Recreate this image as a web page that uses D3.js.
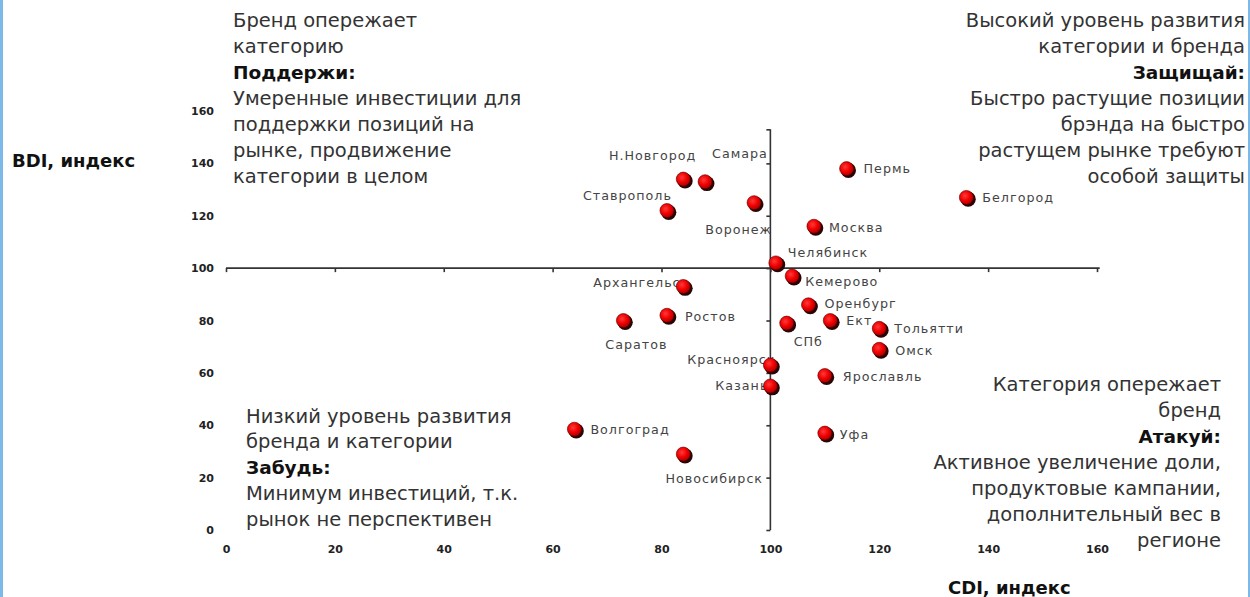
<!DOCTYPE html>
<html>
<head>
<meta charset="utf-8">
<script src="https://cdn.jsdelivr.net/npm/d3@7"></script>
<style>
  html, body { margin: 0; padding: 0; background: #fff; }
  svg { display: block; }
</style>
</head>
<body>
<svg id="chart" width="1250" height="597"></svg>
<script>
// Regions: CDI (category development index) and BDI (brand development index)
const cities = ["Н.Новгород", "Самара", "Ставрополь", "Воронеж", "Пермь", "Белгород",
  "Москва", "Челябинск", "Кемерово", "Архангельск", "Ростов", "Саратов", "Оренбург",
  "СПб", "Ект", "Тольятти", "Омск", "Красноярск", "Казань", "Ярославль", "Волгоград",
  "Уфа", "Новосибирск"];
const cdi = [84, 88, 81, 97, 114, 136, 108, 101, 104, 84, 81, 73, 107, 103, 111, 120, 120, 100, 100, 110, 64, 110, 84];
const bdi = [134, 133, 122, 125, 138, 127, 116, 102, 97, 93, 82, 80, 86, 79, 80, 77, 69, 63, 55, 59, 38.5, 37, 29];

const xTicks = [0, 20, 40, 60, 80, 100, 120, 140, 160];
const yTicks = [0, 20, 40, 60, 80, 100, 120, 140, 160];
const xTitle = "CDI, индекс";
const yTitle = "BDI, индекс";

// Quadrant commentary: [text, isHeading]
const textTopLeft = [["Бренд опережает", false], ["категорию", false], ["Поддержи:", true],
  ["Умеренные инвестиции для", false], ["поддержки позиций на", false],
  ["рынке, продвижение", false], ["категории в целом", false]];
const textTopRight = [["Высокий уровень развития", false], ["категории и бренда", false],
  ["Защищай:", true], ["Быстро растущие позиции", false], ["брэнда на быстро", false],
  ["растущем рынке требуют", false], ["особой защиты", false]];
const textBottomLeft = [["Низкий уровень развития", false], ["бренда и категории", false],
  ["Забудь:", true], ["Минимум инвестиций, т.к.", false], ["рынок не перспективен", false]];
const textBottomRight = [["Категория опережает", false], ["бренд", false], ["Атакуй:", true],
  ["Активное увеличение доли,", false], ["продуктовые кампании,", false],
  ["дополнительный вес в", false], ["регионе", false]];

const svg = d3.select("#chart");
const FONT = "'DejaVu Sans', sans-serif";

// Scales
const x = d3.scaleLinear().domain([0, 160]).range([226, 1097]);
const y = d3.scaleLinear().domain([0, 160]).range([530, 111]);

// Thin frame strips at the page edges
svg.append("rect").attr("x", 0).attr("y", 0).attr("width", 3).attr("height", 597).attr("fill", "#7db9e8");
svg.append("rect").attr("x", 1248).attr("y", 0).attr("width", 2).attr("height", 597).attr("fill", "#7db9e8");

// Tick labels (no axis lines; the axes cross at 100/100)
const yAxis = d3.axisLeft(y).tickValues(yTicks).tickSize(0).tickPadding(0);
svg.append("g").attr("transform", "translate(214,0)").call(yAxis)
  .call(g => g.select(".domain").remove())
  .call(g => g.selectAll("text").attr("font-family", FONT).attr("font-size", 11)
    .attr("font-weight", "bold").attr("fill", "#222"));

const xAxis = d3.axisBottom(x).tickValues(xTicks).tickSize(0).tickPadding(0);
svg.append("g").attr("transform", "translate(0,545)").call(xAxis)
  .call(g => g.select(".domain").remove())
  .call(g => g.selectAll("text").attr("font-family", FONT).attr("font-size", 11)
    .attr("font-weight", "bold").attr("fill", "#222"));

// Crossing axes through (100, 100)
const hAxis = d3.axisBottom(x).tickValues(xTicks).tickSize(4).tickFormat("");
svg.append("g").attr("transform", `translate(0,${y(100)})`).call(hAxis)
  .call(g => g.select(".domain").attr("d", `M${x(0)},0H${x(160.5)}`))
  .call(g => g.selectAll("line, path").attr("stroke", "#333").attr("stroke-width", 1.6));

const vScale = d3.scaleLinear().domain([0, 153]).range([y(0), y(153)]);
const vAxis = d3.axisLeft(vScale).tickValues([0, 20, 40, 60, 80, 100, 120, 140, 153])
  .tickSize(4).tickFormat("");
svg.append("g").attr("transform", `translate(${x(100)},0)`).call(vAxis)
  .call(g => g.select(".domain").attr("d", `M0,${vScale(0)}V${vScale(153)}`))
  .call(g => g.selectAll("line, path").attr("stroke", "#333").attr("stroke-width", 1.6));

// Marker gradient
const defs = svg.append("defs");
const grad = defs.append("radialGradient").attr("id", "ball")
  .attr("cx", "40%").attr("cy", "38%").attr("r", "65%");
grad.append("stop").attr("offset", "0%").attr("stop-color", "#ff3a3a");
grad.append("stop").attr("offset", "55%").attr("stop-color", "#f00000");
grad.append("stop").attr("offset", "100%").attr("stop-color", "#a80000");

// Label placement around each marker: anchor, dx, dy
const labelPlacement = {
  "Н.Новгород": ["end", 13, -24], "Самара": ["start", 7, -28], "Ставрополь": ["end", 5, -15],
  "Воронеж": ["end", 18, 27], "Пермь": ["start", 17, 0], "Белгород": ["start", 16, 0],
  "Москва": ["start", 15, 1], "Челябинск": ["start", 12, -10], "Кемерово": ["start", 13, 6],
  "Архангельск": ["end", 6, -4], "Ростов": ["start", 18, 1], "Саратов": ["middle", 13, 24],
  "Оренбург": ["start", 16, -1], "СПб": ["start", 7, 18], "Ект": ["start", 16, 0],
  "Тольятти": ["start", 15, 0], "Омск": ["start", 16, 1], "Красноярск": ["end", 5, -6],
  "Казань": ["end", -2, 0], "Ярославль": ["start", 18, 1], "Волгоград": ["start", 16, 0],
  "Уфа": ["start", 15, 1], "Новосибирск": ["middle", 31, 24]
};

const points = cities.map((c, i) => ({ name: c, cdi: cdi[i], bdi: bdi[i] }));

// Labels first, markers on top
svg.append("g").selectAll("text").data(points).join("text")
  .attr("x", d => x(d.cdi) + labelPlacement[d.name][1])
  .attr("y", d => y(d.bdi) + labelPlacement[d.name][2])
  .attr("text-anchor", d => labelPlacement[d.name][0])
  .attr("dominant-baseline", "central")
  .attr("font-family", FONT).attr("font-size", 12.7).attr("letter-spacing", 1)
  .attr("fill", "#444")
  .text(d => d.name);

const marks = svg.append("g").selectAll("g").data(points).join("g")
  .attr("transform", d => `translate(${x(d.cdi)},${y(d.bdi)})`);
marks.append("circle").attr("cx", 1.8).attr("cy", 1.8).attr("r", 7.6).attr("fill", "#2a0505");
marks.append("circle").attr("r", 7).attr("fill", "url(#ball)").attr("stroke", "#5a0000").attr("stroke-width", 0.6);

// Quadrant text blocks
function block(lines, xPos, yFirst, step, anchor) {
  svg.append("g").selectAll("text").data(lines).join("text")
    .attr("x", xPos).attr("y", (d, i) => yFirst + i * step)
    .attr("text-anchor", anchor).attr("dominant-baseline", "central")
    .attr("font-family", FONT)
    .attr("font-size", d => d[1] ? 18.5 : 19.5)
    .attr("font-weight", d => d[1] ? "bold" : "normal")
    .attr("fill", d => d[1] ? "#111" : "#333")
    .text(d => d[0]);
}
block(textTopLeft, 233, 20, 26, "start");
block(textTopRight, 1245, 20, 26, "end");
block(textBottomLeft, 246, 416, 25.8, "start");
block(textBottomRight, 1221, 384, 26, "end");

// Axis titles
svg.append("text").attr("x", 12).attr("y", 160).attr("dominant-baseline", "central")
  .attr("font-family", FONT).attr("font-size", 18).attr("font-weight", "bold").attr("fill", "#111")
  .text(yTitle);
svg.append("text").attr("x", 948).attr("y", 587).attr("dominant-baseline", "central")
  .attr("font-family", FONT).attr("font-size", 18).attr("font-weight", "bold").attr("fill", "#111")
  .text(xTitle);
</script>
</body>
</html>
